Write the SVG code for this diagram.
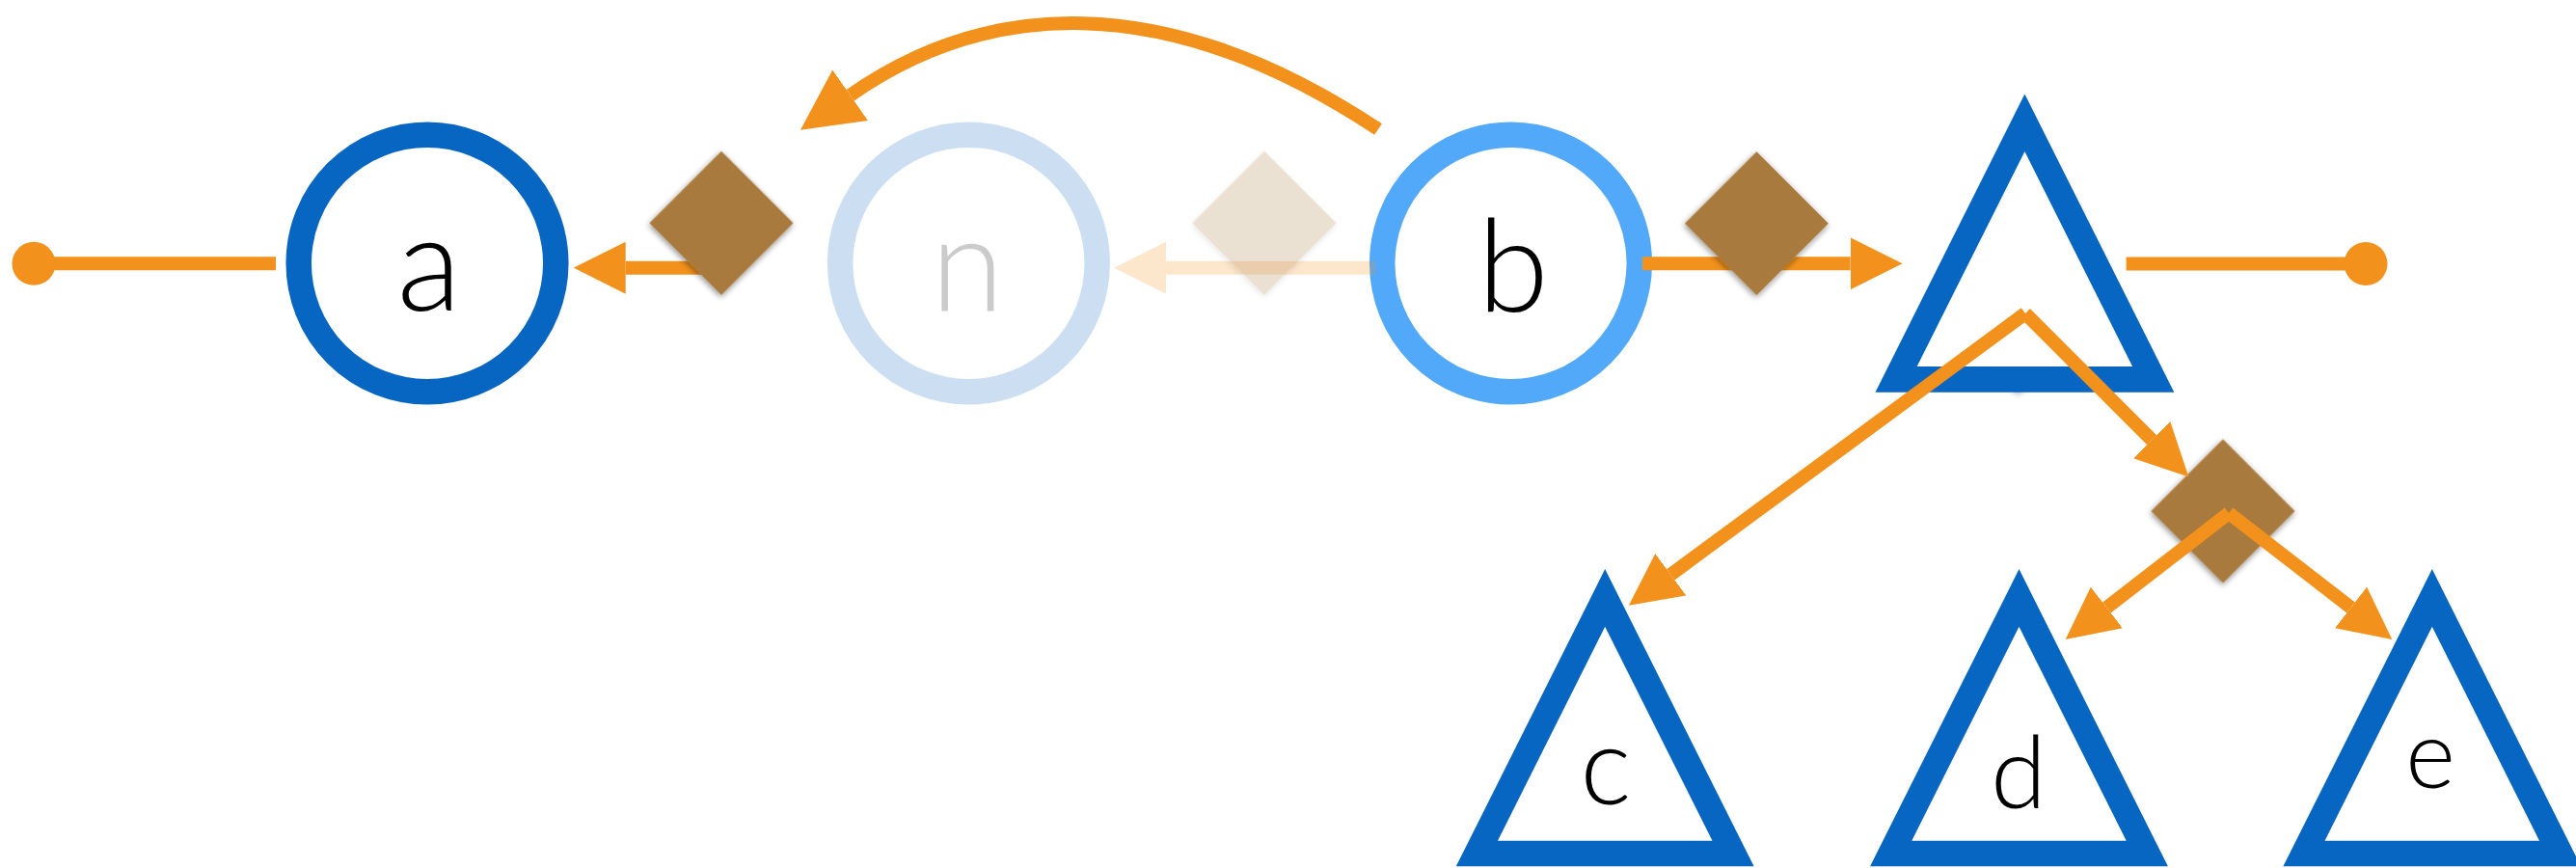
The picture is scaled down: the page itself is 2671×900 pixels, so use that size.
<svg xmlns="http://www.w3.org/2000/svg" width="2671" height="900" viewBox="0 0 2671 900">
  <style>
    .ring { fill: #ffffff; stroke-width: 26.5; }
    .tri { fill: #ffffff; stroke: #0666C1; stroke-width: 26.7; stroke-linejoin: miter; stroke-miterlimit: 10; }
    .lbl { font-family: Lato, "Liberation Sans", Arial, sans-serif; font-weight: 300; fill: #000000; text-anchor: middle; }
    .edge { fill: none; stroke: #F2911B; stroke-width: 14; stroke-linecap: butt; }
    .dot { fill: #F2911B; }
    .gem { fill: #A97A3E; filter: url(#shadow); }
  </style>
  <defs>
    <filter id="shadow" x="-30%" y="-30%" width="160%" height="160%">
      <feDropShadow dx="1" dy="2" stdDeviation="3" flood-color="#000000" flood-opacity="0.45"/>
    </filter>
    <marker id="ah" viewBox="0 0 54 54" refX="0" refY="27" markerWidth="54" markerHeight="54" markerUnits="userSpaceOnUse" orient="auto">
      <path d="M0,0 L54,27 L0,54 z" fill="#F2911B"/>
    </marker>
    <marker id="ahL" viewBox="0 0 63 64" refX="0" refY="32" markerWidth="63" markerHeight="64" markerUnits="userSpaceOnUse" orient="auto">
      <path d="M0,0 L63,32 L0,64 z" fill="#F2911B"/>
    </marker>
  </defs>
  <rect x="0" y="0" width="2671" height="900" fill="#ffffff"/>

  <!-- focus marker inside root triangle (drawn under the triangle) -->
  <g id="focus-root">
    <rect class="gem" x="2040.3" y="279.3" width="105.4" height="105.4" transform="rotate(45 2093 332)"/>
  </g>

  <!-- nodes -->
  <g id="node-a">
    <circle class="ring" cx="443" cy="273" r="133.3" stroke="#0666C1"/>
    <text class="lbl" x="445" y="322" font-size="138">a</text>
  </g>
  <g id="node-n" opacity="0.2">
    <circle class="ring" cx="1004.4" cy="273" r="133.3" stroke="#0666C1"/>
    <text class="lbl" x="1003" y="323" font-size="138">n</text>
  </g>
  <g id="node-b">
    <circle class="ring" cx="1566.5" cy="273" r="133.3" stroke="#53A9F9"/>
    <text class="lbl" x="1569" y="323" font-size="134">b</text>
  </g>
  <g id="node-root">
    <polygon class="tri" points="2099.4,127.2 1966.1,393.3 2232.7,393.3"/>
  </g>
  <g id="node-c">
    <polygon class="tri" points="1664.2,619.9 1531.4,885 1797,885"/>
    <text class="lbl" x="1665" y="834" font-size="112">c</text>
  </g>
  <g id="node-d">
    <polygon class="tri" points="2093.5,619.9 1960.7,885 2226.3,885"/>
    <text class="lbl" x="2093" y="838" font-size="105">d</text>
  </g>
  <g id="node-e">
    <polygon class="tri" points="2521.8,619.9 2389,885 2654.6,885"/>
    <text class="lbl" x="2520" y="817" font-size="99">e</text>
  </g>

  <!-- focus marker between root and d/e (under its edges) -->
  <g id="focus-mid">
    <rect class="gem" x="2252.3" y="477.3" width="105.4" height="105.4" transform="rotate(45 2305 530)"/>
  </g>

  <!-- connectors -->
  <g id="connectors">
    <line class="edge" x1="286" y1="273.3" x2="35" y2="273.3"/>
    <circle class="dot" cx="35" cy="273.3" r="22.5"/>
    <line class="edge" x1="748" y1="277.7" x2="648.7" y2="277.7" marker-end="url(#ah)"/>
    <g opacity="0.22">
      <line class="edge" x1="1426" y1="277.7" x2="1209" y2="277.7" marker-end="url(#ah)"/>
    </g>
    <line class="edge" x1="1703" y1="273.3" x2="1918.6" y2="273.3" marker-end="url(#ah)"/>
    <line class="edge" x1="2204.6" y1="273.5" x2="2453" y2="273.5"/>
    <circle class="dot" cx="2453" cy="273.5" r="22.5"/>
    <path class="edge" d="M1429,134 C1205,-14.5 1021,1.3 881.6,98.7" stroke-width="16" marker-end="url(#ahL)"/>
    <line class="edge" x1="2100" y1="325" x2="1732.3" y2="595.8" marker-end="url(#ah)"/>
    <line class="edge" x1="2100" y1="325" x2="2231.2" y2="456.2" marker-end="url(#ah)"/>
    <line class="edge" x1="2311" y1="532" x2="2184.4" y2="630" marker-end="url(#ah)"/>
    <line class="edge" x1="2311" y1="532" x2="2437.6" y2="630" marker-end="url(#ah)"/>
  </g>

  <!-- focus markers on horizontal edges -->
  <g id="focus-a">
    <rect class="gem" x="695.3" y="178.6" width="105.4" height="105.4" transform="rotate(45 748 231.3)"/>
  </g>
  <g id="focus-n" opacity="0.22">
    <rect class="gem" x="1258.3" y="178.6" width="105.4" height="105.4" transform="rotate(45 1311 231.3)"/>
  </g>
  <g id="focus-b">
    <rect class="gem" x="1768.7" y="179" width="105.4" height="105.4" transform="rotate(45 1821.4 231.7)"/>
  </g>
</svg>
